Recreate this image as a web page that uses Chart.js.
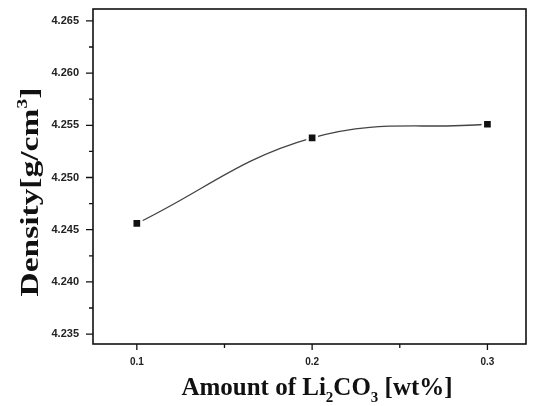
<!DOCTYPE html>
<html>
<head>
<meta charset="utf-8">
<script src="https://cdn.jsdelivr.net/npm/chart.js@4.4.0/dist/chart.umd.min.js"></script>
<style>
  html, body { margin: 0; padding: 0; background: #fff; }
  #wrap { width: 535px; height: 406px; position: relative; }
</style>
</head>
<body>
<div id="wrap"><canvas id="myChart"></canvas></div>
<script>
// dati
const amounts = [0.1, 0.2, 0.3];
const densities = [4.2456, 4.2538, 4.2551];
const xTicks = [0.1, 0.2, 0.3];
const xMinor = [0.15, 0.25];
const yTicks = [4.235, 4.240, 4.245, 4.250, 4.255, 4.260, 4.265];
const yMinor = [4.2375, 4.2425, 4.2475, 4.2525, 4.2575, 4.2625];

const serif = '"Liberation Serif", "Times New Roman", serif';
const sans = '"Liberation Sans", Arial, sans-serif';

// cornice, tacche e titoli degli assi
const FramePlugin = {
  id: 'frame',
  afterDraw: (chart) => {
    const { ctx, chartArea: a, scales } = chart;
    ctx.save();
    ctx.strokeStyle = '#111';
    ctx.lineWidth = 1.6;
    ctx.strokeRect(a.left, a.top, a.right - a.left, a.bottom - a.top);

    ctx.lineWidth = 1.3;
    ctx.beginPath();
    yTicks.forEach(v => { const y = scales.y.getPixelForValue(v); ctx.moveTo(a.left, y); ctx.lineTo(a.left - 7, y); });
    yMinor.forEach(v => { const y = scales.y.getPixelForValue(v); ctx.moveTo(a.left, y); ctx.lineTo(a.left - 4, y); });
    xTicks.forEach(v => { const x = scales.x.getPixelForValue(v); ctx.moveTo(x, a.bottom); ctx.lineTo(x, a.bottom + 6); });
    xMinor.forEach(v => { const x = scales.x.getPixelForValue(v); ctx.moveTo(x, a.bottom); ctx.lineTo(x, a.bottom + 4); });
    ctx.stroke();

    // titolo asse x con pedici
    ctx.fillStyle = '#111';
    ctx.textBaseline = 'alphabetic';
    const big = 'bold 25px ' + serif, small = 'bold 15px ' + serif;
    const xParts = [['Amount of Li', big, 0], ['2', small, 7], ['CO', big, 0], ['3', small, 7], [' [wt%]', big, 0]];
    let w = 0;
    xParts.forEach(p => { ctx.font = p[1]; w += ctx.measureText(p[0]).width; });
    let x = 317 - w / 2;
    xParts.forEach(p => { ctx.font = p[1]; ctx.fillText(p[0], x, 395 + p[2]); x += ctx.measureText(p[0]).width; });

    // titolo asse y con apice
    const yParts = [['Density[g/cm', big, 0], ['3', small, -11], [']', big, 0]];
    w = 0;
    yParts.forEach(p => { ctx.font = p[1]; w += ctx.measureText(p[0]).width; });
    ctx.translate(38, 192);
    ctx.rotate(-Math.PI / 2);
    ctx.scale(209 / w, 1);
    x = -w / 2;
    yParts.forEach(p => { ctx.font = p[1]; ctx.fillText(p[0], x, p[2]); x += ctx.measureText(p[0]).width; });
    ctx.restore();
  }
};

new Chart('myChart', {
  type: 'line',
  data: {
    datasets: [{
      data: amounts.map((a, i) => ({ x: a, y: densities[i] })),
      borderColor: '#444',
      borderWidth: 1.3,
      tension: 0.4,
      pointStyle: 'rect',
      pointRadius: 6.5,
      pointBackgroundColor: '#111',
      pointBorderColor: '#fff',
      pointBorderWidth: 2.5
    }]
  },
  options: {
    responsive: true,
    maintainAspectRatio: false,
    animation: false,
    events: [],
    layout: { padding: { top: 3, right: 7, left: 0, bottom: 0 } },
    plugins: { legend: { display: false }, tooltip: { enabled: false } },
    scales: {
      x: {
        type: 'linear',
        min: 0.075,
        max: 0.322,
        afterBuildTicks: s => { s.ticks = xTicks.map(v => ({ value: v })); },
        afterFit: s => { s.height = 62; s.paddingLeft = 0; s.paddingRight = 0; },
        grid: { display: false, drawTicks: false },
        border: { display: false },
        ticks: {
          padding: 12,
          color: '#222',
          font: { family: sans, size: 10, weight: 'bold' },
          callback: v => v.toFixed(1)
        }
      },
      y: {
        min: 4.23405,
        max: 4.26614,
        afterBuildTicks: s => { s.ticks = yTicks.map(v => ({ value: v })); },
        afterFit: s => { s.width = 93; s.paddingTop = 0; s.paddingBottom = 0; },
        grid: { display: false, drawTicks: false },
        border: { display: false },
        ticks: {
          padding: 14,
          color: '#222',
          font: { family: sans, size: 11, weight: 'bold' },
          callback: v => v.toFixed(3)
        }
      }
    }
  },
  plugins: [FramePlugin]
});
</script>
</body>
</html>
